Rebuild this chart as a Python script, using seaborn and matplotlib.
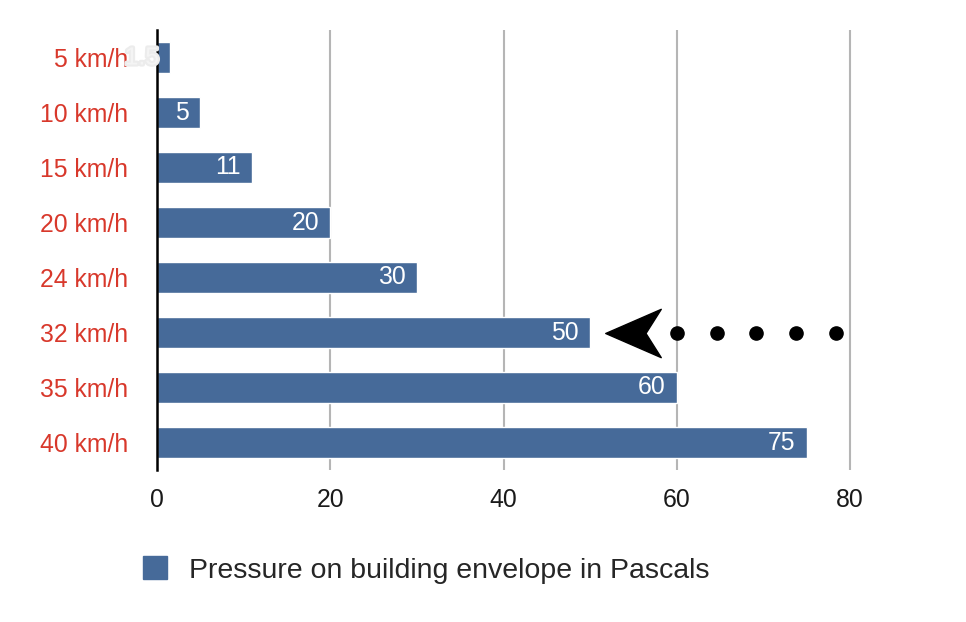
import numpy as np
import matplotlib
matplotlib.use("Agg")
import matplotlib.pyplot as plt
import matplotlib.patheffects as pe
from matplotlib.patches import Patch
from matplotlib.path import Path
import seaborn as sns

speeds = ["5 km/h", "10 km/h", "15 km/h", "20 km/h", "24 km/h", "32 km/h", "35 km/h", "40 km/h"]
pressure = [1.5, 5, 11, 20, 30, 50, 60, 75]
series_name = "Pressure on building envelope in Pascals"
xticks = [0, 20, 40, 60, 80]

# dotted pointer towards the 32 km/h bar
arrow_x = 55
arrow_row = 5
dots_x = [60, 64.6, 69.2, 73.8, 78.4]

bar_color = "#466a99"
label_red = "#d8382b"

sns.set_style("white")
plt.rcParams["font.family"] = ["Liberation Sans", "DejaVu Sans"]

fig = plt.figure(figsize=(9.66, 6.22), dpi=100)
ax = fig.add_axes([157 / 966, 1 - 470 / 622, 82 * 8.6625 / 966, 440 / 622])

sns.barplot(x=pressure, y=speeds, orient="h", color=bar_color, saturation=1,
            width=0.55, ax=ax, zorder=2)

ax.set_xlim(0, 82)
ax.set_ylim(len(speeds) - 0.5, -0.5)
ax.set_xticks(xticks)
ax.xaxis.grid(True, color="#b5b5b5", linewidth=1.5, zorder=0)
ax.yaxis.grid(False)
ax.set_axisbelow(True)
for side in ["top", "right", "bottom"]:
    ax.spines[side].set_visible(False)
ax.spines["left"].set_color("black")
ax.spines["left"].set_linewidth(1.8)
ax.spines["left"].set_zorder(3)
ax.tick_params(axis="y", length=0, pad=21, labelsize=17.8, labelcolor=label_red)
ax.tick_params(axis="x", length=0, pad=13, labelsize=17.8, labelcolor="#1a1a1a")
ax.set_xlabel("")
ax.set_ylabel("")

for i, v in enumerate(pressure):
    t = ax.annotate(f"{v:g}", xy=(v, i), xytext=(-8, 0), textcoords="offset points",
                    ha="right", va="center", color="white", fontsize=17.8, zorder=4)
    if v < 3:
        t.set_color("#f4f4f4")
        t.set_path_effects([pe.withStroke(linewidth=3, foreground="#ececec")])

head = Path([(-1, 0), (1, 0.87), (0.45, 0), (1, -0.87), (-1, 0)],
            [Path.MOVETO, Path.LINETO, Path.LINETO, Path.LINETO, Path.CLOSEPOLY])
ax.plot([arrow_x], [arrow_row], marker=head, markersize=40, color="black",
        linestyle="none", zorder=5)
ax.plot(dots_x, [arrow_row] * len(dots_x), marker="o", markersize=9.5,
        color="black", linestyle="none", zorder=5)

fig.legend(handles=[Patch(facecolor=bar_color, edgecolor=bar_color)], labels=[series_name],
           loc="center left", bbox_to_anchor=(143 / 966, 1 - 570 / 622),
           frameon=False, fontsize=20.5, handlelength=0.85, handleheight=0.85,
           handletextpad=0.75, borderpad=0, borderaxespad=0)

fig.savefig("out.png", dpi=100)
